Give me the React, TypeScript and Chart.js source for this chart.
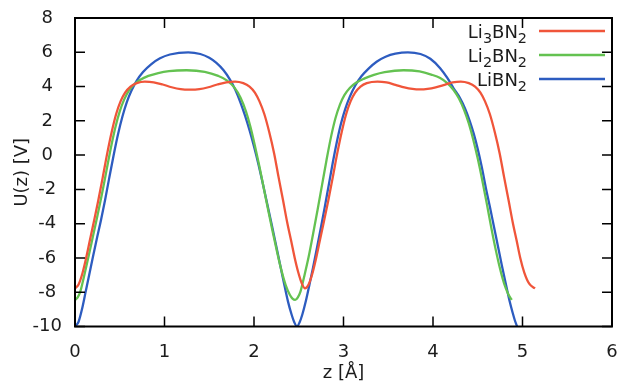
import React, { useEffect, useRef } from "react";
import { Chart, registerables } from "chart.js";

Chart.register(...registerables);

const seriesLabels = ["Li₃BN₂", "Li₂BN₂", "LiBN₂"];
const seriesColors = ["#f0553a", "#64c251", "#2d5cc0"];

const xTicks = [0, 1, 2, 3, 4, 5, 6];
const yTicks = [-10, -8, -6, -4, -2, 0, 2, 4, 6, 8];

const zRed = [
  0, 0.04, 0.08, 0.12, 0.165, 0.21, 0.26, 0.31, 0.36, 0.41,
  0.46, 0.51, 0.56, 0.62, 0.69, 0.78, 0.88, 0.98, 1.08, 1.18,
  1.285, 1.39, 1.49, 1.59, 1.69, 1.79, 1.88, 1.95, 2.01, 2.06,
  2.115, 2.17, 2.225, 2.275, 2.325, 2.37, 2.415, 2.455, 2.495, 2.535,
  2.57,
  2.61, 2.65, 2.69, 2.735, 2.78, 2.83, 2.88, 2.93, 2.98, 3.03,
  3.08, 3.13, 3.19, 3.26, 3.38, 3.48, 3.58, 3.68, 3.77, 3.855,
  3.94, 4.03, 4.13, 4.22, 4.31, 4.4, 4.47, 4.53, 4.58, 4.635,
  4.69, 4.745, 4.795, 4.845, 4.89, 4.935, 4.975, 5.02, 5.075, 5.14,
];
const uRed = [
  -7.78, -7.55, -6.95, -6.1, -5.0, -3.9, -2.65, -1.3, 0.1, 1.35,
  2.4, 3.15, 3.65, 4.0, 4.2, 4.29, 4.25, 4.12, 3.96, 3.85,
  3.82, 3.85, 3.96, 4.12, 4.25, 4.29, 4.2, 4.0, 3.65, 3.15,
  2.4, 1.35, 0.1, -1.3, -2.65, -3.9, -5.0, -6.0, -6.85, -7.5,
  -7.78,
  -7.55, -6.95, -6.1, -5.0, -3.9, -2.65, -1.3, 0.1, 1.35, 2.4,
  3.15, 3.65, 4.0, 4.2, 4.29, 4.24, 4.1, 3.95, 3.86, 3.83,
  3.86, 3.95, 4.1, 4.24, 4.29, 4.2, 4.0, 3.65, 3.15, 2.4,
  1.35, 0.1, -1.3, -2.65, -3.9, -5.0, -6.0, -6.85, -7.5, -7.78,
];

const zGreen = [
  0, 0.03, 0.06, 0.1, 0.15, 0.2, 0.25, 0.3, 0.35, 0.4,
  0.45, 0.5, 0.55, 0.6, 0.66, 0.73, 0.82, 0.93, 1.05, 1.247,
  1.45, 1.6, 1.7, 1.78, 1.85, 1.91, 1.96, 2.01, 2.06, 2.11,
  2.16, 2.21, 2.26, 2.31, 2.355, 2.4, 2.43, 2.46,
  2.49, 2.52, 2.56, 2.61, 2.66, 2.71, 2.76, 2.81, 2.86, 2.91,
  2.96, 3.01, 3.07, 3.14, 3.23, 3.34, 3.46, 3.67,
  3.85, 3.98, 4.08, 4.16, 4.23, 4.29, 4.35, 4.4, 4.45, 4.5,
  4.55, 4.6, 4.65, 4.7, 4.75, 4.795, 4.84, 4.88,
];
const uGreen = [
  -8.45, -8.3, -7.95, -7.1, -5.95, -4.75, -3.55, -2.3, -0.95, 0.4,
  1.6, 2.55, 3.25, 3.75, 4.12, 4.4, 4.62, 4.79, 4.9, 4.95,
  4.86, 4.62, 4.35, 3.95, 3.35, 2.55, 1.65, 0.55, -0.65, -1.95,
  -3.25, -4.5, -5.7, -6.8, -7.6, -8.15, -8.37, -8.45,
  -8.3, -7.95, -7.1, -5.95, -4.6, -3.2, -1.75, -0.3, 1.05, 2.15,
  2.95, 3.5, 3.92, 4.22, 4.46, 4.68, 4.84, 4.95,
  4.88, 4.7, 4.5, 4.2, 3.8, 3.3, 2.6, 1.85, 0.9, -0.2,
  -1.45, -2.8, -4.2, -5.5, -6.65, -7.5, -8.1, -8.45,
];

const zBlue = [
  0, 0.04, 0.08, 0.12, 0.16, 0.2, 0.245, 0.29, 0.335, 0.38,
  0.43, 0.48, 0.53, 0.58, 0.63, 0.69, 0.76, 0.85, 0.95, 1.06,
  1.265, 1.4, 1.5, 1.58, 1.66, 1.73, 1.79, 1.85, 1.9, 1.95,
  2.0, 2.05, 2.1, 2.15, 2.2, 2.25, 2.3, 2.34, 2.38, 2.42,
  2.45, 2.48,
  2.51, 2.54, 2.58, 2.62, 2.66, 2.7, 2.745, 2.79, 2.835, 2.88,
  2.925, 2.97, 3.02, 3.07, 3.13, 3.2, 3.28, 3.37, 3.47, 3.58,
  3.72, 3.86, 3.97, 4.08, 4.16, 4.23, 4.3, 4.36, 4.41, 4.455,
  4.5, 4.545, 4.59, 4.635, 4.68, 4.725, 4.77, 4.815, 4.855, 4.89,
  4.915, 4.94,
];
const uBlue = [
  -10, -9.72, -8.95, -7.95, -6.95, -5.95, -4.85, -3.8, -2.65, -1.4,
  -0.05, 1.2, 2.25, 3.1, 3.75, 4.35, 4.85, 5.3, 5.65, 5.87,
  6.0, 5.9, 5.68, 5.38, 4.95, 4.42, 3.82, 3.05, 2.3, 1.45,
  0.5, -0.55, -1.7, -2.9, -4.1, -5.35, -6.6, -7.6, -8.55, -9.3,
  -9.75, -10,
  -9.75, -9.3, -8.5, -7.55, -6.55, -5.5, -4.3, -3.05, -1.75, -0.45,
  0.75, 1.8, 2.7, 3.4, 4.05, 4.6, 5.05, 5.45, 5.74, 5.92,
  6.0, 5.9, 5.62, 5.07, 4.5, 3.9, 3.35, 2.7, 2.0, 1.25,
  0.35, -0.7, -1.9, -3.0, -4.15, -5.3, -6.45, -7.55, -8.5, -9.2,
  -9.65, -10,
];

const seriesZ = [zRed, zGreen, zBlue];
const seriesU = [uRed, uGreen, uBlue];

const FONT = "'DejaVu Sans', 'Noto Sans', sans-serif";
const TEXT = "#1c1c1c";

const subMap: Record<string, string> = {
  "₀": "0", "₁": "1", "₂": "2", "₃": "3", "₄": "4",
  "₅": "5", "₆": "6", "₇": "7", "₈": "8", "₉": "9",
};

function splitLabel(label: string) {
  const segs: { text: string; sub: boolean }[] = [];
  for (const ch of label) {
    const sub = ch in subMap;
    const t = sub ? subMap[ch] : ch;
    const last = segs[segs.length - 1];
    if (last && last.sub === sub) last.text += t;
    else segs.push({ text: t, sub });
  }
  return segs;
}

const framePlugin = {
  id: "gnuframe",
  afterDatasetsDraw(chart: any) {
    const { ctx, chartArea } = chart;
    const { left, right, top, bottom } = chartArea;
    const xs = chart.scales.x;
    const ys = chart.scales.y;
    ctx.save();
    ctx.strokeStyle = "#000";
    ctx.lineWidth = 1.5;
    ctx.beginPath();
    const tl = 10;
    xTicks.forEach((v) => {
      const px = xs.getPixelForValue(v);
      ctx.moveTo(px, bottom);
      ctx.lineTo(px, bottom - tl);
      ctx.moveTo(px, top);
      ctx.lineTo(px, top + tl);
    });
    yTicks.forEach((v) => {
      const py = ys.getPixelForValue(v);
      ctx.moveTo(left, py);
      ctx.lineTo(left + tl, py);
      ctx.moveTo(right, py);
      ctx.lineTo(right - tl, py);
    });
    ctx.stroke();
    ctx.lineWidth = 2;
    ctx.strokeRect(left, top, right - left, bottom - top);

    // key
    const mainFont = `18px ${FONT}`;
    const subFont = `14.4px ${FONT}`;
    const textRight = right - 85;
    chart.data.datasets.forEach((ds: any, i: number) => {
      const rowY = top + 13 + i * 24;
      const segs = splitLabel(ds.label);
      let total = 0;
      segs.forEach((s) => {
        ctx.font = s.sub ? subFont : mainFont;
        total += ctx.measureText(s.text).width;
      });
      let x = textRight - total;
      ctx.fillStyle = TEXT;
      ctx.textAlign = "left";
      ctx.textBaseline = "alphabetic";
      const base = rowY + 6.5;
      segs.forEach((s) => {
        ctx.font = s.sub ? subFont : mainFont;
        ctx.fillText(s.text, x, s.sub ? base + 5 : base);
        x += ctx.measureText(s.text).width;
      });
      ctx.strokeStyle = ds.borderColor;
      ctx.lineWidth = 2.3;
      ctx.beginPath();
      ctx.moveTo(right - 73, rowY);
      ctx.lineTo(right - 7, rowY);
      ctx.stroke();
    });
    ctx.restore();
  },
};

function zeroPad(s: any) {
  s.paddingLeft = 0;
  s.paddingRight = 0;
  s.paddingTop = 0;
  s.paddingBottom = 0;
}

export default function App() {
  const ref = useRef<HTMLCanvasElement | null>(null);

  useEffect(() => {
    if (!ref.current) return;
    const datasets = seriesLabels.map((label, i) => ({
      label,
      data: seriesZ[i].map((z, k) => ({ x: z, y: seriesU[i][k] })),
      borderColor: seriesColors[i],
      backgroundColor: seriesColors[i],
      borderWidth: 2.3,
      pointRadius: 0,
      fill: false,
      cubicInterpolationMode: "monotone" as const,
    }));
    const chart = new Chart(ref.current, {
      type: "line",
      data: { datasets },
      options: {
        animation: false,
        responsive: false,
        maintainAspectRatio: false,
        devicePixelRatio: 1,
        layout: { padding: { top: 18, right: 9, left: 0, bottom: 0 } },
        plugins: { legend: { display: false }, tooltip: { enabled: false } },
        scales: {
          x: {
            type: "linear",
            min: 0,
            max: 6,
            grid: { display: false, drawTicks: false },
            border: { display: false },
            ticks: { stepSize: 1, padding: 15, color: TEXT, font: { family: FONT, size: 18 } },
            title: {
              display: true,
              text: "z [Å]",
              color: TEXT,
              font: { family: FONT, size: 18 },
              padding: { top: 0, bottom: 0 },
            },
            afterFit: (s: any) => {
              s.height = 57.5;
              zeroPad(s);
            },
          },
          y: {
            type: "linear",
            min: -10,
            max: 8,
            grid: { display: false, drawTicks: false },
            border: { display: false },
            ticks: {
              stepSize: 2,
              padding: 13,
              crossAlign: "center",
              color: TEXT,
              font: { family: FONT, size: 18 },
            },
            title: {
              display: true,
              text: "U(z) [V]",
              color: TEXT,
              font: { family: FONT, size: 18 },
              padding: { top: 12, bottom: 0 },
            },
            afterFit: (s: any) => {
              s.width = 75;
              zeroPad(s);
            },
          },
        },
      },
      plugins: [framePlugin],
    });
    return () => chart.destroy();
  }, []);

  return (
    <div
      style={{
        position: "fixed",
        left: 0,
        top: 0,
        width: 621,
        height: 384,
        background: "#ffffff",
      }}
    >
      <canvas ref={ref} width={621} height={384} />
    </div>
  );
}
